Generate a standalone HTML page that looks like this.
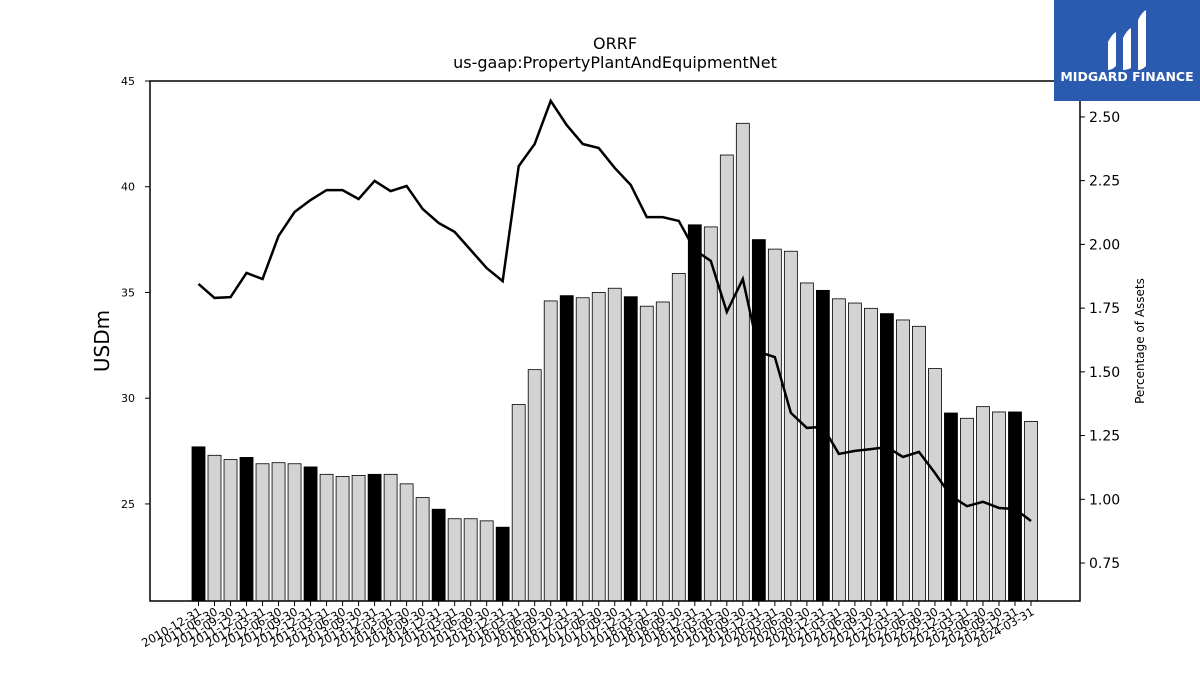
<!DOCTYPE html>
<html><head><meta charset="utf-8"><style>
body{margin:0;background:#fff;}
svg{display:block;font-family:"DejaVu Sans","Liberation Sans",sans-serif;}
</style></head><body>
<svg id="chart" width="1200" height="675" viewBox="0 0 1200 675">
<text x="615" y="49" text-anchor="middle" font-size="16">ORRF</text>
<text x="615" y="68" text-anchor="middle" font-size="16">us-gaap:PropertyPlantAndEquipmentNet</text>
<text transform="translate(109,341) rotate(-90)" text-anchor="middle" font-size="20">USDm</text>
<text transform="translate(1144,341) rotate(-90)" text-anchor="middle" font-size="12">Percentage of Assets</text>
<g id="bars"></g><g id="line"></g><g id="axes"></g>
<rect x="150" y="81" width="930" height="520" fill="none" stroke="#000" stroke-width="1.5"/>
<g>
<rect x="1054" y="0" width="146" height="101" fill="#2b5bae"/>
<path d="M1108 42 q4 -8 8 -10 v34 q-4 4 -8 4z M1123 38 q4 -8 8 -10 v40 q-4 2 -8 2z M1138 20 q4 -8 8 -10 v56 q-4 4 -8 4z" fill="#fff"/>
<text x="1127" y="81" text-anchor="middle" font-size="12.5" font-weight="bold" fill="#fff">MIDGARD FINANCE</text>
</g>
</svg>
<script>
const categories=["2010-12-31","2011-06-30","2011-09-30","2011-12-31","2012-03-31","2012-06-30","2012-09-30","2012-12-31","2013-03-31","2013-06-30","2013-09-30","2013-12-31","2014-03-31","2014-06-30","2014-09-30","2014-12-31","2015-03-31","2015-06-30","2015-09-30","2015-12-31","2016-03-31","2016-06-30","2016-09-30","2016-12-31","2017-03-31","2017-06-30","2017-09-30","2017-12-31","2018-03-31","2018-06-30","2018-09-30","2018-12-31","2019-03-31","2019-06-30","2019-09-30","2019-12-31","2020-03-31","2020-06-30","2020-09-30","2020-12-31","2021-03-31","2021-06-30","2021-09-30","2021-12-31","2022-03-31","2022-06-30","2022-09-30","2022-12-31","2023-03-31","2023-06-30","2023-09-30","2023-12-31","2024-03-31"];
const ppeValues=[27.7,27.3,27.1,27.2,26.9,26.95,26.9,26.75,26.4,26.3,26.35,26.4,26.4,25.95,25.3,24.75,24.3,24.3,24.2,23.9,29.7,31.35,34.6,34.85,34.75,35.0,35.2,34.8,34.35,34.55,35.9,38.2,38.1,41.5,43.0,37.5,37.05,36.95,35.45,35.1,34.7,34.5,34.25,34.0,33.7,33.4,31.4,29.3,29.05,29.6,29.35,29.35,28.9];
const pctAssets=[1.845,1.79,1.793,1.888,1.864,2.033,2.127,2.174,2.213,2.213,2.178,2.249,2.209,2.229,2.139,2.084,2.049,1.978,1.907,1.856,2.307,2.394,2.563,2.468,2.394,2.378,2.300,2.233,2.107,2.107,2.092,1.978,1.935,1.735,1.864,1.578,1.558,1.339,1.280,1.284,1.178,1.19,1.197,1.205,1.166,1.186,1.103,1.013,0.973,0.99,0.966,0.962,0.915];
const leftTicks=[25,30,35,40,45];
const rightTicks=[0.75,1.00,1.25,1.50,1.75,2.00,2.25,2.50];
const NS="http://www.w3.org/2000/svg";
const yL=v=>81+(45-v)*(520/24.59);
const yR=v=>81+(2.641-v)*254.9;
const xC=i=>198.5+i*((1031-198.5)/(categories.length-1));
function mk(t,a,p){const e=document.createElementNS(NS,t);for(const k in a)e.setAttribute(k,a[k]);p.appendChild(e);return e;}
const bars=document.getElementById('bars'),line=document.getElementById('line'),axes=document.getElementById('axes');
ppeValues.forEach((v,i)=>{
  const r=mk('rect',{x:xC(i)-6.5,y:yL(v),width:13,height:601-yL(v),fill:categories[i].endsWith('12-31')?'#000':'#d3d3d3',stroke:'#000','stroke-width':0.8},bars);
  
  
});
const pl=mk('polyline',{points:pctAssets.map((v,i)=>xC(i)+','+yR(v)).join(' '),fill:'none',stroke:'#000','stroke-width':2.5},line);


leftTicks.forEach(v=>{
  mk('line',{x1:145,x2:150,y1:yL(v),y2:yL(v),stroke:'#000'},axes);
  const t=mk('text',{x:135,y:yL(v)+4,'text-anchor':'end','font-size':11},axes);t.textContent=v;
  
  
});
rightTicks.forEach(v=>{
  mk('line',{x1:1080,x2:1085,y1:yR(v),y2:yR(v),stroke:'#000'},axes);
  const t=mk('text',{x:1089,y:yR(v)+5,'font-size':14},axes);t.textContent=v.toFixed(2);
  
  
});
categories.forEach((c,i)=>{
  mk('line',{x1:xC(i),x2:xC(i),y1:601,y2:606,stroke:'#000'},axes);
  const t=mk('text',{transform:'translate('+(xC(i)+4)+',614) rotate(-30)','text-anchor':'end','font-size':11.5},axes);t.textContent=c;
  
  
});
</script>
</body></html>
